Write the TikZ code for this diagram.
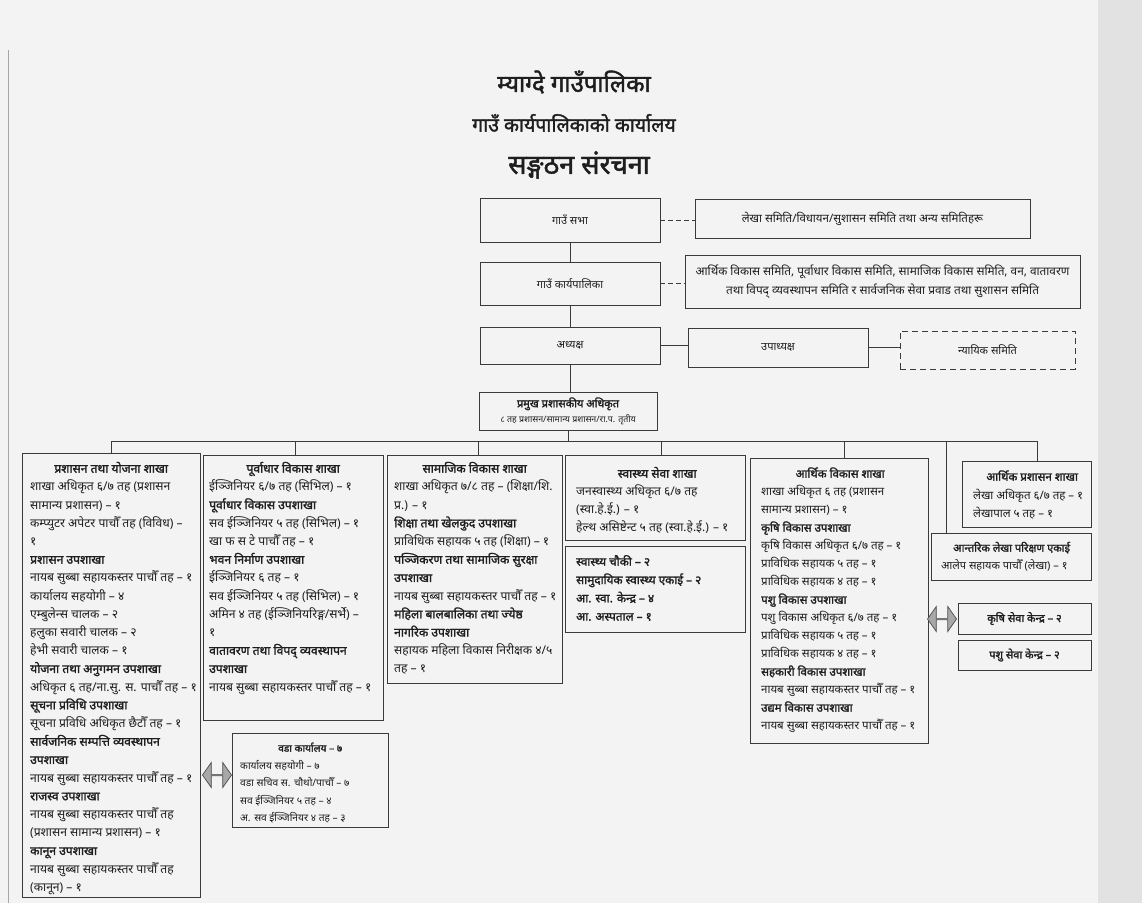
\documentclass[tikz,border=0pt]{standalone}
\usepackage{fontspec}
\setmainfont[Script=Devanagari, BoldFont={Noto Sans}, BoldFeatures={FakeBold=1.8}]{Noto Sans}
\usetikzlibrary{shapes.arrows}
\definecolor{ink}{HTML}{1E1E1E}
\definecolor{linec}{HTML}{3A3A3A}
\definecolor{paper}{HTML}{F3F3F3}
\definecolor{band}{HTML}{E2E2E2}
\definecolor{arrfill}{HTML}{A8A8A8}
\newcommand{\hdl}[2]{\makebox[#1][c]{\bfseries #2}}
\newcommand{\fstrut}{\rule{0pt}{15pt}}
\begin{document}
\begin{tikzpicture}[x=1pt,y=-1pt,
  box/.style={draw=linec, line width=0.9pt, inner sep=0pt},
  dbox/.style={box, dash pattern=on 6pt off 4pt},
  txt/.style={inner sep=0pt, anchor=north west, align=left, text=ink, font=\fontsize{12.1}{18.2}\selectfont},
  ctxt/.style={inner sep=0pt, align=center, text=ink, font=\fontsize{11}{16}\selectfont},
  link/.style={draw=linec, line width=0.9pt},
  dlink/.style={link, dash pattern=on 5pt off 3pt},
  darr/.style={double arrow, draw=gray!60!black, fill=arrfill, line width=0.7pt, minimum height=29pt, minimum width=25pt, double arrow head extend=6.5pt, double arrow tip angle=110, inner sep=0pt},
]
\fill[paper] (0,0) rectangle (1142,903);
\fill[band] (1098,0) rectangle (1142,903);
\draw[gray!70, line width=0.6pt] (8,50) -- (8,903);
\useasboundingbox (0,0) rectangle (1142,903);

% titles
\node[text=ink, font=\fontsize{24}{28}\selectfont\bfseries] (t1) at (574,82) {म्याग्दे गाउँपालिका};
\node[text=ink, font=\fontsize{19.5}{22}\selectfont\bfseries] (t2) at (574,123) {गाउँ कार्यपालिकाको कार्यालय};
\node[text=ink, font=\fontsize{27}{30}\selectfont\bfseries] (t3) at (579,165) {सङ्गठन संरचना};

% top hierarchy
\node[box, ctxt, minimum width=180pt, minimum height=44pt] (sabha) at (570,220) {गाउँ सभा};
\node[box, ctxt, font=\fontsize{11.5}{16}\selectfont, minimum width=335pt, minimum height=39pt] (lekha) at (862.5,218.5) {लेखा समिति/विधायन/सुशासन समिति तथा अन्य समितिहरू};
\node[box, ctxt, minimum width=180pt, minimum height=43pt] (karya) at (570,283.5) {गाउँ कार्यपालिका};
\node[box, ctxt, font=\fontsize{11.8}{19}\selectfont, minimum width=395pt, minimum height=53pt] (samiti) at (882.5,281.5) {आर्थिक विकास समिति, पूर्वाधार विकास समिति, सामाजिक विकास समिति, वन, वातावरण\\ तथा विपद् व्यवस्थापन समिति र सार्वजनिक सेवा प्रवाड तथा सुशासन समिति};
\node[box, ctxt, minimum width=180pt, minimum height=37pt] (adhy) at (570,345.5) {अध्यक्ष};
\node[box, ctxt, minimum width=180pt, minimum height=39pt] (upa) at (778,347.5) {उपाध्यक्ष};
\node[dbox, ctxt, minimum width=175pt, minimum height=38pt] (nyay) at (987.5,350) {न्यायिक समिति};
\node[box, ctxt, font=\fontsize{11}{15}\selectfont, minimum width=178pt, minimum height=38pt] (pram) at (568,411) {{\bfseries प्रमुख प्रशासकीय अधिकृत}\\{\fontsize{8.8}{10}\selectfont ८ तह प्रशासन/सामान्य प्रशासन/रा.प. तृतीय}};

\draw[dlink] (sabha.east) -- (sabha.east -| lekha.west);
\draw[dlink] (karya.east) -- (karya.east -| samiti.west);
\draw[link] (sabha) -- (karya);
\draw[link] (karya) -- (adhy);
\draw[link] (adhy.east) -- (adhy.east -| upa.west);
\draw[link] (upa.east) -- (upa.east -| nyay.west);
\draw[link] (adhy.south) -- (adhy.south |- pram.north);

% branch boxes
\node[box, anchor=north west, minimum width=178pt, minimum height=444pt] (c1) at (22,453) {};
\node[box, anchor=north west, minimum width=180pt, minimum height=265pt] (c2) at (203,455) {};
\node[box, anchor=north west, minimum width=175pt, minimum height=228pt] (c3) at (387,455) {};
\node[box, anchor=north west, minimum width=180pt, minimum height=85pt] (c4) at (565,455) {};
\node[box, anchor=north west, minimum width=180pt, minimum height=86pt] (c4b) at (565,546) {};
\node[box, anchor=north west, minimum width=178pt, minimum height=285pt] (c5) at (750,458) {};
\node[box, anchor=north west, minimum width=129pt, minimum height=66pt] (c6) at (962,461) {};
\node[box, anchor=north west, minimum width=160pt, minimum height=47pt] (aant) at (931,533) {};
\node[box, ctxt, font=\fontsize{11}{14}\selectfont\bfseries, minimum width=133pt, minimum height=31pt] (krishi) at (1024.5,618.5) {कृषि सेवा केन्द्र – २};
\node[box, ctxt, font=\fontsize{11}{14}\selectfont\bfseries, minimum width=133pt, minimum height=30pt] (pashu) at (1024.5,655) {पशु सेवा केन्द्र – २};
\node[box, anchor=north west, minimum width=156pt, minimum height=94pt] (vada) at (232,733) {};

% bus
\coordinate (b1) at (111,441);
\coordinate (b2) at (295,441);
\coordinate (b3) at (478,441);
\coordinate (b4) at (661,441);
\coordinate (b5) at (844,441);
\coordinate (b6) at (946,441);
\coordinate (b7) at (1037,441);
\draw[link] (pram.south) -- (pram.south |- b1);
\draw[link] (b1) -- (b7);
\draw[link] (b1) -- (b1 |- c1.north);
\draw[link] (b2) -- (b2 |- c2.north);
\draw[link] (b3) -- (b3 |- c3.north);
\draw[link] (b4) -- (b4 |- c4.north);
\draw[link] (b5) -- (b5 |- c5.north);
\draw[link] (b6) -- (b6 |- aant.north);
\draw[link] (b7) -- (b7 |- c6.north);

% double arrows
\node[darr] (ar1) at (217,775) {};
\node[darr] (ar2) at (942,619) {};

% texts
\node[txt] (c1t) at (30,457.5) {\fstrut\hdl{162pt}{प्रशासन तथा योजना शाखा}\\
शाखा अधिकृत ६/७ तह (प्रशासन\\
सामान्य प्रशासन) – १\\
कम्प्युटर अपेटर पाचौँ तह (विविध) –\\
१\\
\textbf{प्रशासन उपशाखा}\\
नायब सुब्बा सहायकस्तर पाचौँ तह – १\\
कार्यालय सहयोगी – ४\\
एम्बुलेन्स चालक – २\\
हलुका सवारी चालक – २\\
हेभी सवारी चालक – १\\
\textbf{योजना तथा अनुगमन उपशाखा}\\
अधिकृत ६ तह/ना.सु. स. पाचौँ तह – १\\
\textbf{सूचना प्रविधि उपशाखा}\\
सूचना प्रविधि अधिकृत छैटौँ तह – १\\
\textbf{सार्वजनिक सम्पत्ति व्यवस्थापन}\\
\textbf{उपशाखा}\\
नायब सुब्बा सहायकस्तर पाचौँ तह – १\\
\textbf{राजस्व उपशाखा}\\
नायब सुब्बा सहायकस्तर पाचौँ तह\\
(प्रशासन सामान्य प्रशासन) – १\\
\textbf{कानून उपशाखा}\\
नायब सुब्बा सहायकस्तर पाचौँ तह\\
(कानून) – १};

\node[txt] (c2t) at (209,457.5) {\fstrut\hdl{168pt}{पूर्वाधार विकास शाखा}\\
ईञ्जिनियर ६/७ तह (सिभिल) – १\\
\textbf{पूर्वाधार विकास उपशाखा}\\
सव ईञ्जिनियर ५ तह (सिभिल) – १\\
खा फ स टे पाचौँ तह – १\\
\textbf{भवन निर्माण उपशाखा}\\
ईञ्जिनियर ६ तह – १\\
सव ईञ्जिनियर ५ तह (सिभिल) – १\\
अमिन ४ तह (ईञ्जिनियरिङ्ग/सर्भे) –\\
१\\
\textbf{वातावरण तथा विपद् व्यवस्थापन}\\
\textbf{उपशाखा}\\
नायब सुब्बा सहायकस्तर पाचौँ तह – १};

\node[txt] (c3t) at (394,457.5) {\fstrut\hdl{161pt}{सामाजिक विकास शाखा}\\
शाखा अधिकृत ७/८ तह – (शिक्षा/शि.\\
प्र.) – १\\
\textbf{शिक्षा तथा खेलकुद उपशाखा}\\
प्राविधिक सहायक ५ तह (शिक्षा) – १\\
\textbf{पञ्जिकरण तथा सामाजिक सुरक्षा}\\
\textbf{उपशाखा}\\
नायब सुब्बा सहायकस्तर पाचौँ तह – १\\
\textbf{महिला बालबालिका तथा ज्येष्ठ}\\
\textbf{नागरिक उपशाखा}\\
सहायक महिला विकास निरीक्षक ४/५\\
तह – १};

\node[txt, font=\fontsize{12}{18}\selectfont] (c4t) at (576,462.5) {\fstrut\hdl{162pt}{स्वास्थ्य सेवा शाखा}\\
जनस्वास्थ्य अधिकृत ६/७ तह\\
(स्वा.हे.ई.) – १\\
हेल्थ असिष्टेन्ट ५ तह (स्वा.हे.ई.) – १};

\node[txt, font=\fontsize{11.8}{18.3}\selectfont\bfseries] (c4bt) at (576,550.5) {\fstrut स्वास्थ्य चौकी – २\\
सामुदायिक स्वास्थ्य एकाई – २\\
आ. स्वा. केन्द्र – ४\\
आ. अस्पताल – १};

\node[txt, font=\fontsize{11.5}{18}\selectfont] (c5t) at (761,462.5) {\fstrut\hdl{158pt}{आर्थिक विकास शाखा}\\
शाखा अधिकृत ६ तह (प्रशासन\\
सामान्य प्रशासन) – १\\
\textbf{कृषि विकास उपशाखा}\\
कृषि विकास अधिकृत ६/७ तह – १\\
प्राविधिक सहायक ५ तह – १\\
प्राविधिक सहायक ४ तह – १\\
\textbf{पशु विकास उपशाखा}\\
पशु विकास अधिकृत ६/७ तह – १\\
प्राविधिक सहायक ५ तह – १\\
प्राविधिक सहायक ४ तह – १\\
\textbf{सहकारी विकास उपशाखा}\\
नायब सुब्बा सहायकस्तर पाचौँ तह – १\\
\textbf{उद्यम विकास उपशाखा}\\
नायब सुब्बा सहायकस्तर पाचौँ तह – १};

\node[txt, font=\fontsize{11.5}{18.5}\selectfont] (c6t) at (973,465.5) {\fstrut\hdl{118pt}{आर्थिक प्रशासन शाखा}\\
लेखा अधिकृत ६/७ तह – १\\
लेखापाल ५ तह – १};

\node[txt, font=\fontsize{11}{18}\selectfont] (aantt) at (941,536.5) {\fstrut\hspace*{12pt}\textbf{आन्तरिक लेखा परिक्षण एकाई}\\
आलेप सहायक पाचौँ (लेखा) – १};

\node[txt, font=\fontsize{10.2}{17.5}\selectfont] (vadat) at (240,736.5) {\fstrut\hdl{140pt}{वडा कार्यालय – ७}\\
कार्यालय सहयोगी – ७\\
वडा सचिव स. चौथो/पाचौँ – ७\\
सव ईञ्जिनियर ५ तह – ४\\
अ. सव ईञ्जिनियर ४ तह – ३};
\end{tikzpicture}
\end{document}
